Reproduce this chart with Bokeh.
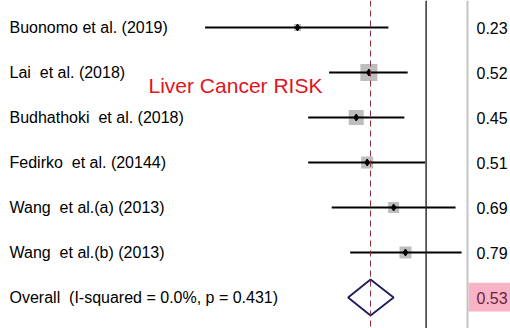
import math
from bokeh.plotting import figure
from bokeh.models import ColumnDataSource, Range1d, Span, LabelSet, Label, BoxAnnotation
from bokeh.core.properties import value
from bokeh.embed import file_html
from bokeh.resources import INLINE

# ---- data ----
studies = ["Buonomo et al. (2019)", "Lai  et al. (2018)", "Budhathoki  et al. (2018)",
           "Fedirko  et al. (20144)", "Wang  et al.(a) (2013)", "Wang  et al.(b) (2013)"]
estimates = [0.23, 0.52, 0.45, 0.51, 0.69, 0.79]
ci_low = [0.08, 0.33, 0.26, 0.26, 0.34, 0.42]
ci_high = [0.65, 0.81, 0.78, 0.99, 1.40, 1.50]
weights = [5.0, 29.7, 23.1, 14.8, 12.4, 14.8]
est_labels = ["0.23", "0.52", "0.45", "0.51", "0.69", "0.79"]

overall_label = "Overall  (I-squared = 0.0%, p = 0.431)"
overall_est = 0.53
overall_low = 0.41
overall_high = 0.69
overall_text = "0.53"
title_text = "Liver Cancer RISK"

FONT = "Liberation Sans"
W, H = 510, 328


def keep_spaces(s):
    # keep double spaces visible in SVG text
    return s.replace("  ", "\u00a0 ")


rows = list(range(len(studies)))
overall_row = len(studies)

src = ColumnDataSource(dict(
    row=rows, est=estimates, lo=ci_low, hi=ci_high,
    size=[3.12 * math.sqrt(w) for w in weights],
    label=[keep_spaces(s) for s in studies], num=est_labels,
))

# x: log scale, 1.0 at pixel ~425.6, 87.5 px per ln unit
px_per_ln = 87.5
x_one = 425.6
x_start = math.exp(-x_one / px_per_ln)
x_end = math.exp((W - x_one) / px_per_ln)
row_px = 45.0
first_px = 27.0

p = figure(width=W, height=H, x_axis_type="log",
           x_range=Range1d(x_start, x_end),
           y_range=Range1d((H - first_px) / row_px, -first_px / row_px),
           output_backend="svg", toolbar_location=None,
           min_border=0, x_axis_location=None, y_axis_location=None)
p.outline_line_color = None
p.xgrid.visible = False
p.ygrid.visible = False
p.background_fill_color = "white"
p.border_fill_color = "white"

# pink highlight behind overall value
p.add_layout(BoxAnnotation(left=468, right=W, left_units="screen", right_units="screen",
                           bottom=overall_row + 0.31, top=overall_row - 0.33,
                           fill_color="#f9b3c6", fill_alpha=1.0, line_color=None, level="underlay"))

# reference lines
p.add_layout(Span(location=1.0, dimension="height", line_color="#222222", line_width=1.4))
p.add_layout(Span(location=overall_est, dimension="height", line_color="#8b2a3a",
                  line_width=1, line_dash="6 4"))
p.add_layout(Span(location=467, location_units="screen", dimension="height",
                  line_color="#c4c4c4", line_width=2))

# weight squares
p.scatter(x="est", y="row", size="size", marker="square", source=src,
          fill_color="#bdbdbd", line_color=None)
# CI lines
p.segment(x0="lo", x1="hi", y0="row", y1="row", source=src, line_color="black", line_width=2)
# point estimates
p.scatter(x="est", y="row", size=7, marker="diamond", source=src,
          fill_color="black", line_color="black")

# overall diamond
h = 0.4
p.patch(x=[overall_low, overall_est, overall_high, overall_est],
        y=[overall_row, overall_row - h, overall_row, overall_row + h],
        fill_color="white", line_color="#1c1c5c", line_width=1.8)

# labels
p.add_layout(LabelSet(x=9, y="row", x_units="screen", text="label", source=src,
                      text_font=value(FONT), text_font_size="16px", text_baseline="middle",
                      text_color="black"))
p.add_layout(LabelSet(x=476, y="row", x_units="screen", text="num", source=src,
                      text_font=value(FONT), text_font_size="16px", text_baseline="middle",
                      text_color="black"))
p.add_layout(Label(x=9, y=overall_row, x_units="screen", text=keep_spaces(overall_label),
                   text_font=FONT, text_font_size="16px", text_baseline="middle",
                   text_color="black"))
p.add_layout(Label(x=476, y=overall_row, x_units="screen", text=overall_text,
                   text_font=FONT, text_font_size="16px", text_baseline="middle",
                   text_color="#6b1f3a"))
p.add_layout(Label(x=148, y=H - 85, x_units="screen", y_units="screen", text=title_text,
                   text_font=FONT, text_font_size="21px", text_baseline="middle",
                   text_color="#e0141e"))

open("out.html", "w").write(file_html(p, INLINE))
